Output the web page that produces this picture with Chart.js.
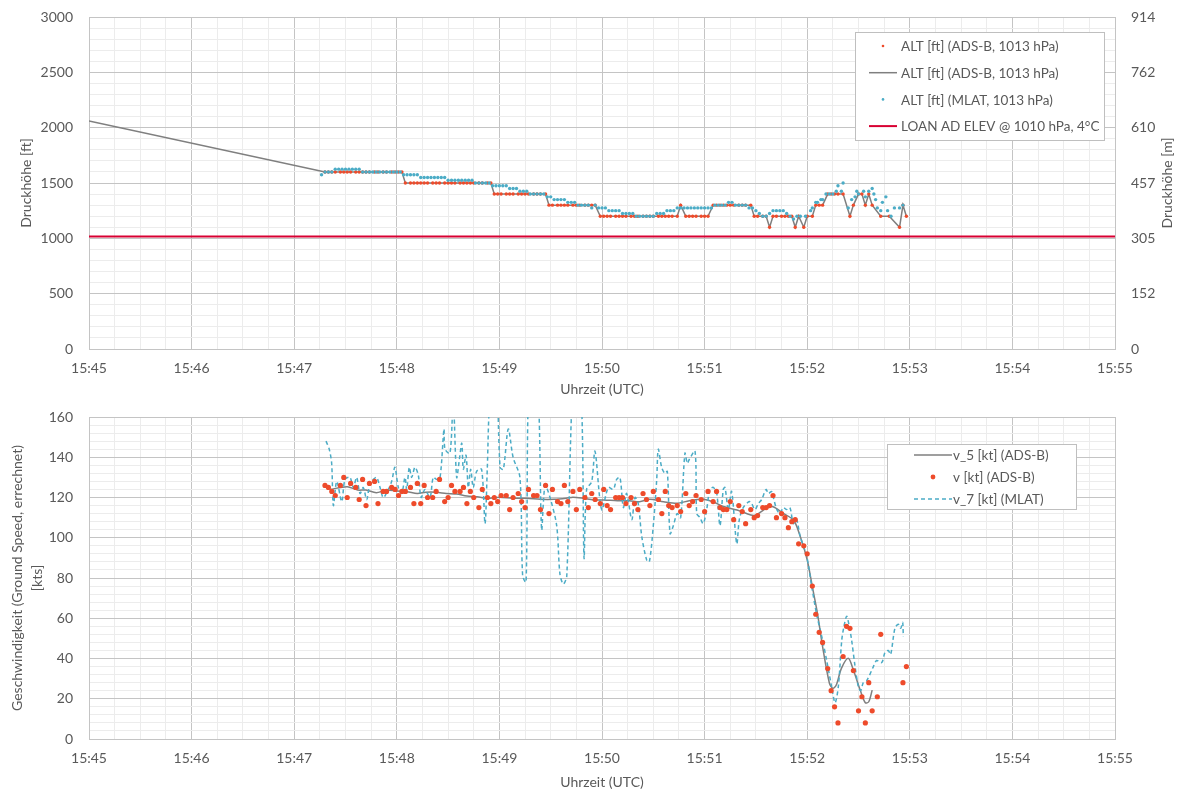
<!DOCTYPE html>
<html>
<head>
<meta charset="utf-8">
<script src="https://cdn.jsdelivr.net/npm/chart.js@4.4.1/dist/chart.umd.min.js"></script>
<style>
  body { margin: 0; background: #fff; }
  .box { position: relative; width: 1177px; }
  #top { height: 398px; }
  #bottom { height: 396px; }
</style>
</head>
<body>
<div class="box" id="top"><canvas id="altChart"></canvas></div>
<div class="box" id="bottom"><canvas id="speedChart"></canvas></div>
<script>
// time axis: seconds after 15:45:00 UTC
const timeMin = 0, timeMax = 600;

// ADS-B records (time, pressure altitude, ground speed)
const adsbSec = [
  138, 140, 142, 144, 147, 149, 151, 153, 156, 158,
  160, 162, 164, 167, 169, 172, 174, 177, 179, 181,
  183, 185, 188, 190, 192, 194, 196, 198, 201, 203,
  205, 208, 210, 212, 214, 217, 219, 221, 223, 225,
  228, 230, 233, 235, 237, 239, 241, 244, 246, 248,
  251, 253, 255, 257, 260, 262, 264, 267, 269, 271,
  274, 276, 278, 280, 283, 285, 287, 290, 292, 294,
  296, 299, 301, 303, 305, 308, 310, 312, 314, 317,
  319, 321, 324, 326, 328, 330, 333, 335, 337, 339,
  341, 344, 346, 349, 351, 353, 355, 358, 360, 362,
  365, 367, 369, 371, 373, 375, 377, 380, 382, 384,
  387, 389, 391, 394, 396, 398, 400, 402, 405, 407,
  409, 411, 413, 415, 418, 420, 423, 425, 427, 429,
  432, 434, 436, 438, 441, 443, 445, 447, 450, 452,
  454, 456, 458, 461, 463, 468, 474, 476, 478
];
const adsbAlt = [
  1600, 1600, 1600, 1600, 1600, 1600, 1600, 1600, 1600, 1600,
  1600, 1600, 1600, 1600, 1600, 1600, 1600, 1600, 1600, 1600,
  1600, 1500, 1500, 1500, 1500, 1500, 1500, 1500, 1500, 1500,
  1500, 1500, 1500, 1500, 1500, 1500, 1500, 1500, 1500, 1500,
  1500, 1500, 1500, 1500, 1400, 1400, 1400, 1400, 1400, 1400,
  1400, 1400, 1400, 1400, 1400, 1400, 1400, 1400, 1300, 1300,
  1300, 1300, 1300, 1300, 1300, 1300, 1300, 1300, 1300, 1300,
  1300, 1200, 1200, 1200, 1200, 1200, 1200, 1200, 1200, 1200,
  1200, 1200, 1200, 1200, 1200, 1200, 1200, 1200, 1200, 1200,
  1200, 1200, 1300, 1200, 1200, 1200, 1200, 1200, 1200, 1200,
  1300, 1300, 1300, 1300, 1300, 1300, 1300, 1300, 1300, 1300,
  1300, 1200, 1200, 1200, 1200, 1100, 1200, 1200, 1200, 1200,
  1200, 1200, 1100, 1200, 1100, 1200, 1200, 1300, 1300, 1300,
  1400, 1400, 1400, 1400, 1400, null, 1200, 1300, 1400, 1400,
  1300, 1400, 1300, null, 1200, 1200, 1100, 1300, 1200
];
const adsbSpeed = [
  126, 125, 123, 121, 126, 130, 120, 127, 125, 119,
  129, 116, 127, 128, 117, 123, 123, 125, 124, 121,
  123, 123, 125, 117, 127, 117, 126, 120, 120, 123,
  129, 118, 120, 126, 123, 123, 125, 117, 123, 120,
  115, 124, 120, 117, 120, 118, 121, 121, 114, 120,
  122, 118, 115, 124, 121, 121, 114, 126, 112, 124,
  118, 117, 126, 118, 123, 114, 124, 120, 115, 122,
  119, 117, 124, 116, 114, 120, 120, 120, 117, 120,
  117, 114, 122, 119, 116, 123, 119, 112, 123, 116,
  115, 116, 113, 122, 116, 118, 121, 119, 113, 123,
  118, 123, 115, 114, 114, 118, 109, 116, 113, 107,
  114, 110, 111, 115, 115, 116, 121, 110, 112, 110,
  105, 108, 109, 97, 96, 92, 76, 62, 53, 48,
  35, 24, 16, 8, 41, 56, 55, 34, 14, 21,
  8, 28, 14, 21, 52, null, null, 28, 36
];
// earlier ADS-B fix the altitude line comes from
const adsbLeadSec = 0, adsbLeadAlt = 2060;

// MLAT altitude (25 ft steps)
const mlatSec = [
  136, 138, 140, 142, 144, 146, 148, 150, 152, 154,
  156, 158, 160, 162, 164, 166, 168, 170, 172, 174,
  176, 178, 180, 182, 184, 186, 188, 190, 192, 194,
  196, 198, 200, 202, 204, 206, 208, 210, 212, 214,
  216, 218, 220, 222, 224, 226, 228, 230, 232, 234,
  236, 238, 240, 242, 244, 246, 248, 250, 252, 254,
  256, 258, 260, 262, 264, 266, 268, 270, 272, 274,
  276, 278, 280, 282, 284, 286, 288, 290, 292, 294,
  296, 298, 300, 302, 304, 306, 308, 310, 312, 314,
  316, 318, 320, 322, 324, 326, 328, 330, 332, 334,
  336, 338, 340, 342, 344, 346, 348, 350, 352, 354,
  356, 358, 360, 362, 364, 366, 368, 370, 372, 374,
  376, 378, 380, 382, 384, 386, 388, 390, 392, 394,
  396, 398, 400, 402, 404, 406, 408, 410, 412, 414,
  416, 419, 422, 423, 425, 426, 428, 429, 431, 433,
  435, 437, 438, 440, 441, 444, 446, 448, 449, 450,
  453, 454, 456, 458, 459, 460, 461, 463, 464, 466,
  467, 469, 471, 474, 476
];
const mlatAlt = [
  1575, 1600, 1600, 1600, 1625, 1625, 1625, 1625, 1625, 1625,
  1625, 1625, 1600, 1600, 1600, 1600, 1600, 1600, 1600, 1600,
  1600, 1600, 1600, 1600, 1575, 1575, 1575, 1575, 1575, 1550,
  1550, 1550, 1550, 1550, 1550, 1550, 1550, 1525, 1525, 1525,
  1525, 1525, 1525, 1525, 1525, 1500, 1500, 1500, 1500, 1500,
  1475, 1475, 1475, 1475, 1475, 1450, 1450, 1450, 1425, 1425,
  1425, 1400, 1400, 1400, 1400, 1400, 1375, 1375, 1350, 1350,
  1350, 1350, 1325, 1325, 1325, 1300, 1300, 1300, 1300, 1275,
  1300, 1275, 1275, 1275, 1250, 1250, 1250, 1250, 1225, 1225,
  1225, 1225, 1200, 1200, 1200, 1200, 1200, 1200, 1225, 1225,
  1225, 1250, 1250, 1250, 1275, 1275, 1275, 1275, 1275, 1275,
  1275, 1275, 1275, 1275, 1275, 1300, 1300, 1300, 1300, 1325,
  1325, 1300, 1300, 1300, 1300, 1275, 1275, 1250, 1225, 1200,
  1200, 1225, 1250, 1250, 1250, 1250, 1225, 1200, 1175, 1200,
  1200, 1200, 1250, 1275, 1325, 1325, 1350, 1350, 1400, 1400,
  1400, 1425, 1475, 1425, 1500, 1275, 1350, 1375, 1425, 1400,
  1425, 1375, 1425, 1450, 1400, 1350, 1275, 1250, 1325, 1375,
  1250, 1200, 1275, 1275, 1300
];

// LOAN aerodrome elevation as pressure altitude
const loanElevFt = 1017;

// v_5 smoothed ADS-B speed
const v5Sec = [
  141, 151, 157, 162, 168, 174, 180, 186, 192, 197,
  203, 209, 215, 221, 227, 233, 240, 248, 256, 264,
  272, 279, 283, 289, 295, 301, 309, 316, 322, 328,
  336, 344, 351, 359, 365, 371, 379, 387, 390, 396,
  400, 406, 412, 416, 420, 423, 426, 429, 433, 435,
  437, 440, 444, 447, 451, 454, 456, 458
];
const v5Speed = [
  124, 125.4, 123.7, 123.7, 122.4, 123.7, 123.2, 122.9, 122, 122.6,
  122.6, 122, 121.7, 120.7, 120.4, 119.6, 120.1, 119.6, 119.6, 119.1,
  119.1, 119.6, 120.1, 119.6, 118.8, 118.8, 118.4, 118.4, 117.9, 119.1,
  117.9, 117.1, 118.4, 119.1, 117.8, 115.5, 113.8, 111.3, 111.3, 114.6,
  115.4, 112.1, 108.8, 100.5, 89, 75.7, 62.4, 45.9, 27.7, 25.2,
  26.8, 35.1, 40.1, 34.3, 24.3, 18, 18.5, 24.3
];

// v_7 smoothed MLAT speed
const v7Sec = [
  138.6, 140.5, 141.9, 142.9, 144.9, 147.8, 149.7, 152.6, 154.6, 156.5,
  158.5, 160.4, 162.4, 164.3, 166.3, 168.2, 170.2, 172.1, 175.0, 177.0,
  178.9, 180.9, 182.9, 184.8, 185.8, 187.3, 188.7, 190.6, 192.6, 194.2,
  196.5, 199.4, 201.3, 203.3, 205.3, 207.6, 208.2, 211.1, 213.0, 215.0,
  216.6, 218.0, 218.9, 220.5, 221.8, 223.2, 224.7, 226.7, 229.6, 231.6,
  232.9, 234.5, 238.0, 240.4, 242.3, 245.2, 248.0, 252.0, 253.6, 255.6,
  256.9, 259.6, 262.8, 264.7, 266.7, 269.6, 273.5, 275.4, 277.4, 279.4,
  282.3, 284.8, 288.1, 289.5, 291.0, 294.0, 295.9, 299.8, 303.7, 306.6,
  308.6, 310.5, 312.5, 314.4, 317.4, 319.3, 321.2, 323.2, 326.1, 327.7,
  330.0, 332.0, 332.9, 334.9, 336.8, 338.2, 339.8, 341.7, 344.0, 346.0,
  348.5, 349.9, 351.1, 354.4, 355.4, 357.3, 359.2, 361.2, 363.1, 365.1,
  367.1, 369.0, 370.9, 371.9, 373.9, 375.8, 378.8, 380.3, 382.6, 386.1,
  387.5, 389.5, 391.4, 393.4, 395.9, 397.3, 399.2, 400.2, 402.2, 404.1,
  406.0, 408.0, 409.9, 411.9, 413.8, 415.8, 417.7, 419.7, 422.6, 425.5,
  428.5, 431.4, 434.3, 436.3, 438.2, 440.2, 441.5, 443.1, 444.6, 446.0,
  448.0, 449.9, 451.3, 452.8, 454.8, 458.7, 460.6, 463.6, 465.5, 467.4,
  468.8, 471.3, 473.3, 474.7, 475.8, 476.2
];
const v7Speed = [
  148, 144, 137, 116, 128, 118, 129, 130, 125, 130,
  122, 125, 119, 127, 129, 130, 125, 120, 124, 128,
  135, 125, 122, 130, 124, 135, 130, 135, 131, 120,
  124, 120, 130, 129, 130, 154, 144, 142, 168, 130,
  139, 147, 134, 141, 125, 134, 125, 133, 134, 107,
  134, 170, 185, 135, 134, 154, 140, 130, 81, 78,
  170, 190, 170, 104, 126, 120, 106, 82, 77, 81,
  165, 190, 165, 90, 124, 128, 143, 114, 125, 124,
  129, 130, 115, 122, 109, 120, 117, 101, 89, 88,
  106, 129, 144, 135, 132, 133, 102, 106, 112, 110,
  142, 137, 139, 143, 112, 110, 107, 114, 124, 125,
  122, 106, 124, 125, 114, 123, 97, 109, 115, 118,
  117, 114, 117, 119, 124, 122, 123, 120, 114, 112,
  115, 114, 115, 107, 109, 101, 96, 91, 76, 62,
  51, 39, 26, 18, 26, 49, 56, 61, 56, 49,
  36, 26, 24, 28, 29, 36, 39, 38, 43, 44,
  42, 55, 57, 55, 58, 51
];

const RED = '#ee4b2b', CYAN = '#4bacc6', GRAY = '#7f7f7f', CRIMSON = '#d80032';
const TEXT = '#595959', MAJOR = '#c4c4c4', MINOR = '#ececec';
const FONT = "Lato, 'Open Sans', sans-serif";

Chart.defaults.font.family = FONT;
Chart.defaults.font.size = 14;
Chart.defaults.color = TEXT;

const pts = (xs, ys) => xs.map((x, i) => ({ x: x, y: ys[i] }));

function clockLabel(sec) {
  const m = 45 + Math.round(sec / 60);
  return '15:' + String(m).padStart(2, '0');
}

function timeAxis(h, titlePad) {
  return {
    type: 'linear',
    min: timeMin,
    max: timeMax,
    afterFit: s => { s.height = h; },
    border: { color: MAJOR },
    grid: { drawTicks: false, color: c => (c.tick.value % 60 === 0 ? MAJOR : MINOR) },
    ticks: {
      stepSize: 15, autoSkip: false, maxRotation: 0, padding: 11,
      callback: v => (v % 60 === 0 ? clockLabel(v) : '')
    },
    title: { display: true, text: 'Uhrzeit (UTC)', padding: { top: 0, bottom: titlePad } }
  };
}

// left value axis; invisible tick marks keep the labels 16px off the axis
function valueAxis(max, step, every) {
  return {
    position: 'left', min: 0, max: max,
    afterFit: s => { s.width = 89; },
    border: { color: MAJOR },
    grid: {
      tickLength: 8, tickColor: 'rgba(0,0,0,0)',
      color: c => (c.tick.value % every === 0 ? MAJOR : MINOR)
    },
    ticks: { stepSize: step, autoSkip: false, padding: 8, callback: v => (v % every === 0 ? v : '') }
  };
}

// legend box drawn inside the plot area (Excel style)
const boxLegend = {
  id: 'boxLegend',
  afterDatasetsDraw(chart, args, o) {
    const ctx = chart.ctx;
    ctx.save();
    ctx.fillStyle = '#fff';
    ctx.fillRect(o.x, o.y, o.w, o.h);
    ctx.strokeStyle = '#bfbfbf';
    ctx.lineWidth = 1;
    ctx.strokeRect(o.x + 0.5, o.y + 0.5, o.w - 1, o.h - 1);
    ctx.font = '13.5px ' + FONT;
    ctx.textBaseline = 'middle';
    chart.data.datasets.forEach((ds, i) => {
      const cy = o.y + o.first + i * o.gap;
      if (ds.showLine === false) {
        ctx.fillStyle = ds.pointBackgroundColor;
        ctx.beginPath();
        ctx.arc(o.x + (o.s1 + o.s2) / 2, cy, o.dot, 0, Math.PI * 2);
        ctx.fill();
      } else {
        ctx.strokeStyle = ds.borderColor;
        ctx.lineWidth = ds.borderWidth;
        ctx.setLineDash(ds.borderDash || []);
        ctx.beginPath();
        ctx.moveTo(o.x + o.s1, cy);
        ctx.lineTo(o.x + o.s2, cy);
        ctx.stroke();
        ctx.setLineDash([]);
      }
      ctx.fillStyle = TEXT;
      ctx.fillText(ds.label, o.x + o.tx, cy + 1);
    });
    ctx.restore();
  }
};

// right axis title reads bottom-to-top like the left one
const rightTitle = {
  id: 'rightTitle',
  afterDraw(chart, args, o) {
    const { ctx, chartArea } = chart;
    ctx.save();
    ctx.translate(o.x, (chartArea.top + chartArea.bottom) / 2);
    ctx.rotate(-Math.PI / 2);
    ctx.font = '14px ' + FONT;
    ctx.fillStyle = TEXT;
    ctx.textAlign = 'center';
    ctx.textBaseline = 'middle';
    ctx.fillText(o.text, 0, 0);
    ctx.restore();
  }
};

const altY = valueAxis(3000, 100, 500);
altY.title = { display: true, text: 'Druckhöhe [ft]', padding: { top: 18, bottom: 0 } };

const speedY = valueAxis(160, 4, 20);
speedY.title = {
  display: true,
  text: ['Geschwindigkeit (Ground Speed, errechnet)', '[kts]'],
  font: { lineHeight: 1.45 },
  padding: { top: 7, bottom: 0 }
};

// Altitude chart
new Chart(document.getElementById('altChart'), {
  type: 'line',
  data: {
    datasets: [
      {
        label: 'ALT [ft] (ADS-B, 1013 hPa)',
        data: pts(adsbSec, adsbAlt),
        showLine: false, pointRadius: 1.7, pointBorderWidth: 0,
        pointBackgroundColor: RED, borderColor: RED, order: 1
      },
      {
        label: 'ALT [ft] (ADS-B, 1013 hPa)',
        data: [{ x: adsbLeadSec, y: adsbLeadAlt }].concat(pts(adsbSec, adsbAlt)),
        borderColor: GRAY, borderWidth: 1.5, pointRadius: 0, spanGaps: true, order: 2
      },
      {
        label: 'ALT [ft] (MLAT, 1013 hPa)',
        data: pts(mlatSec, mlatAlt),
        showLine: false, pointRadius: 1.7, pointBorderWidth: 0,
        pointBackgroundColor: CYAN, borderColor: CYAN, order: 0
      },
      {
        label: 'LOAN AD ELEV @ 1010 hPa, 4°C',
        data: [{ x: timeMin, y: loanElevFt }, { x: timeMax, y: loanElevFt }],
        borderColor: CRIMSON, borderWidth: 2, pointRadius: 0, order: 3
      }
    ]
  },
  options: {
    responsive: true,
    maintainAspectRatio: false,
    animation: false,
    layout: { padding: { top: 17 } },
    plugins: {
      legend: { display: false },
      tooltip: { enabled: false },
      boxLegend: { x: 855, y: 32, w: 250, h: 109, first: 14, gap: 26.7, s1: 14, s2: 42, tx: 46, dot: 1.3 },
      rightTitle: { x: 1167, text: 'Druckhöhe [m]' }
    },
    scales: {
      x: timeAxis(49, 0),
      y: altY,
      y2: {
        position: 'right', min: 0, max: 3000,
        afterFit: s => { s.width = 62; },
        border: { color: MAJOR },
        grid: { display: false },
        ticks: { stepSize: 100, autoSkip: false, padding: 8, callback: v => (v % 500 === 0 ? Math.round(v * 0.3048) : '') }
      }
    }
  },
  plugins: [boxLegend, rightTitle]
});

// Speed chart
new Chart(document.getElementById('speedChart'), {
  type: 'line',
  data: {
    datasets: [
      {
        label: 'v_5 [kt] (ADS-B)',
        data: pts(v5Sec, v5Speed),
        borderColor: GRAY, borderWidth: 1.5, pointRadius: 0, tension: 0.3, order: 2
      },
      {
        label: 'v [kt] (ADS-B)',
        data: pts(adsbSec, adsbSpeed),
        showLine: false, pointRadius: 2.6, pointBorderWidth: 0,
        pointBackgroundColor: RED, borderColor: RED, order: 0
      },
      {
        label: 'v_7 [kt] (MLAT)',
        data: pts(v7Sec, v7Speed),
        borderColor: CYAN, borderWidth: 1.5, borderDash: [4, 3], pointRadius: 0, tension: 0.3, order: 1
      }
    ]
  },
  options: {
    responsive: true,
    maintainAspectRatio: false,
    animation: false,
    layout: { padding: { top: 19, right: 62 } },
    plugins: {
      legend: { display: false },
      tooltip: { enabled: false },
      boxLegend: { x: 887, y: 46, w: 190, h: 66, first: 11, gap: 22, s1: 27, s2: 65, tx: 66, dot: 2.4 }
    },
    scales: {
      x: timeAxis(55, 3),
      y: speedY
    }
  },
  plugins: [boxLegend]
});
</script>
</body>
</html>
